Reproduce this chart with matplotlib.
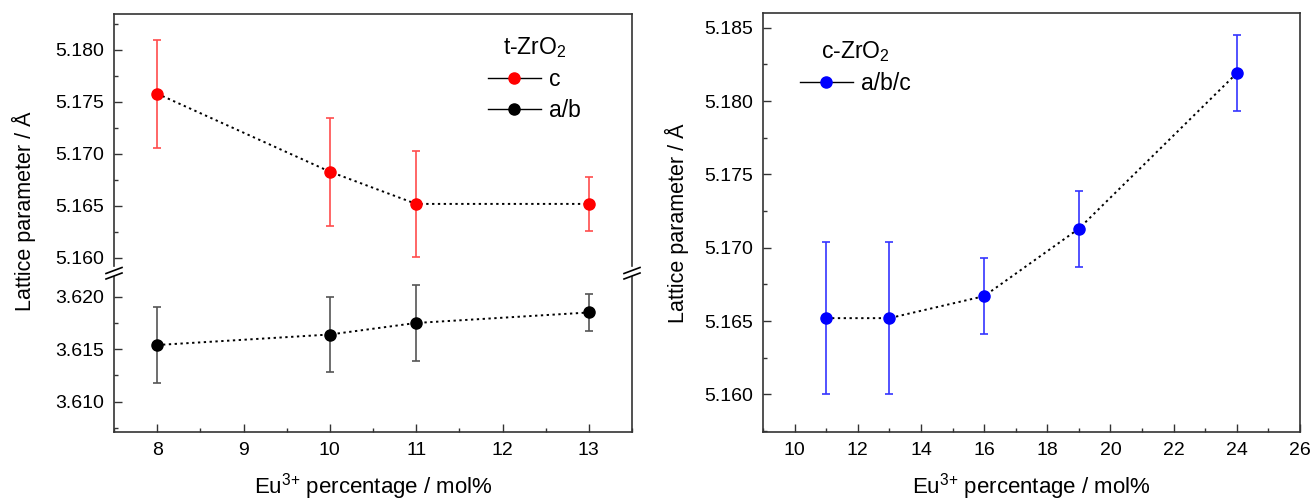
import matplotlib
matplotlib.use("Agg")
import matplotlib.pyplot as plt
from matplotlib.lines import Line2D
from matplotlib.ticker import MultipleLocator, FormatStrFormatter

plt.rcParams['font.family'] = ['Liberation Sans', 'DejaVu Sans']
plt.rcParams['mathtext.fontset'] = 'custom'
plt.rcParams['mathtext.rm'] = 'Liberation Sans'
plt.rcParams['mathtext.it'] = 'Liberation Sans:italic'
plt.rcParams['mathtext.bf'] = 'Liberation Sans:bold'

# t-ZrO2 data
t_x = [8, 10, 11, 13]
t_c = [5.1758, 5.1683, 5.1652, 5.1652]
t_c_err = [0.0052, 0.0052, 0.0051, 0.0026]
t_ab = [3.6154, 3.6164, 3.6175, 3.6185]
t_ab_err = [0.0036, 0.0036, 0.0036, 0.0018]

# c-ZrO2 data
c_x = [11, 13, 16, 19, 24]
c_abc = [5.1652, 5.1652, 5.1667, 5.1713, 5.1819]
c_err = [0.0052, 0.0052, 0.0026, 0.0026, 0.0026]

xlabel = r'Eu$^{\text{3+}}$ percentage / mol%'
ylabel = 'Lattice parameter / Å'

W, H = 1312, 501
fig = plt.figure(figsize=(W / 100, H / 100), dpi=100)

def px_axes(x0, y0, x1, y1):
    return fig.add_axes([x0 / W, 1 - y1 / H, (x1 - x0) / W, (y1 - y0) / H])

ax_top = px_axes(114, 14, 632, 266)
ax_bot = px_axes(114, 277, 632, 432)
ax_r = px_axes(763, 13, 1300, 432)

spine_c = '#333333'
fs = 14

def style(ax, sides):
    for s in ['top', 'bottom', 'left', 'right']:
        ax.spines[s].set_color(spine_c)
        ax.spines[s].set_linewidth(1.2)
        ax.spines[s].set_visible(s in sides)
    ax.tick_params(which='both', direction='in', colors=spine_c, labelcolor='black',
                   labelsize=fs, width=1.0, top=False, right=False, pad=7)
    ax.tick_params(which='major', length=5.5)
    ax.tick_params(which='minor', length=3)

def draw(ax, x, y, err, mcolor, ecolor):
    ax.errorbar(x, y, yerr=err, fmt='none', ecolor=ecolor, elinewidth=1.2,
                capsize=3, capthick=1.2, zorder=2)
    ax.plot(x, y, color='black', lw=1.4, linestyle=(0, (1.2, 1.8)), zorder=3)
    ax.plot(x, y, 'o', color=mcolor, markersize=8, zorder=4)

# left panel (broken axis)
draw(ax_top, t_x, t_c, t_c_err, 'red', '#ff4d4d')
draw(ax_bot, t_x, t_ab, t_ab_err, 'black', '#555555')

for ax in (ax_top, ax_bot):
    ax.set_xlim(7.5, 13.5)
    ax.xaxis.set_major_locator(MultipleLocator(1))
    ax.xaxis.set_minor_locator(MultipleLocator(0.5))
    ax.yaxis.set_major_formatter(FormatStrFormatter('%.3f'))

style(ax_top, ['top', 'left', 'right'])
style(ax_bot, ['bottom', 'left', 'right'])
ax_top.tick_params(which='both', bottom=False, labelbottom=False)
ax_top.set_ylim(5.15923, 5.18346)
ax_top.yaxis.set_major_locator(MultipleLocator(0.005))
ax_top.yaxis.set_minor_locator(MultipleLocator(0.0025))
ax_bot.set_ylim(3.60711, 3.62188)
ax_bot.yaxis.set_major_locator(MultipleLocator(0.005))
ax_bot.yaxis.set_minor_locator(MultipleLocator(0.0025))

# break marks
for xs in (114, 632):
    for yc in (270.5, 276):
        fig.add_artist(Line2D([(xs - 8) / W, (xs + 8) / W],
                              [1 - (yc + 3) / H, 1 - (yc - 3) / H],
                              transform=fig.transFigure, color='black', lw=1.2))

# right panel
draw(ax_r, c_x, c_abc, c_err, 'blue', '#3535ff')
style(ax_r, ['top', 'bottom', 'left', 'right'])
ax_r.set_xlim(9, 26)
ax_r.set_ylim(5.15744, 5.1860)
ax_r.xaxis.set_major_locator(MultipleLocator(2))
ax_r.xaxis.set_minor_locator(MultipleLocator(1))
ax_r.yaxis.set_major_locator(MultipleLocator(0.005))
ax_r.yaxis.set_minor_locator(MultipleLocator(0.0025))
ax_r.yaxis.set_major_formatter(FormatStrFormatter('%.3f'))

# axis labels
fig.text((114 + 632) / 2 / W, 8 / H, xlabel, ha='center', va='baseline', fontsize=16)
fig.text((763 + 1300) / 2 / W, 8 / H, xlabel, ha='center', va='baseline', fontsize=16)
fig.text(24 / W, 1 - 211 / H, ylabel, rotation=90, ha='center', va='center', fontsize=15.5)
fig.text(677 / W, 1 - 223 / H, ylabel, rotation=90, ha='center', va='center', fontsize=15.5)

# legends
def mk_handle(c):
    return Line2D([], [], color='black', lw=1, marker='o', markersize=8,
                  markerfacecolor=c, markeredgecolor=c)

leg_kw = dict(frameon=False, loc='upper left', bbox_transform=fig.transFigure,
              borderpad=0, borderaxespad=0, handlelength=2.3, handletextpad=0.35,
              labelspacing=0.36, fontsize=16.5, title_fontsize=16.5)
ax_top.legend([mk_handle('red'), mk_handle('black')], ['c', 'a/b'],
              title='t-ZrO$_2$', bbox_to_anchor=(488 / W, 1 - 35 / H), **leg_kw)
ax_r.legend([mk_handle('blue')], ['a/b/c'],
            title='c-ZrO$_2$', bbox_to_anchor=(800 / W, 1 - 39 / H), **leg_kw)

fig.savefig('out.png', dpi=100)
